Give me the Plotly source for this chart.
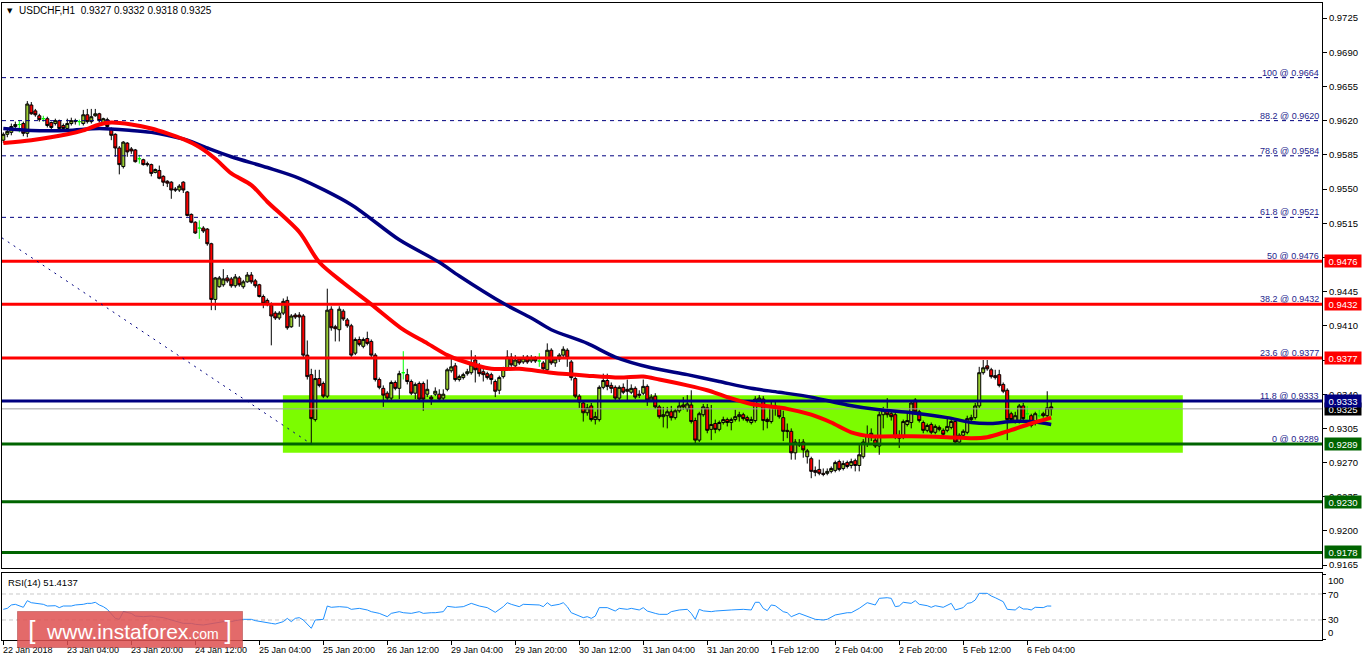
import plotly.graph_objects as go

# ---------------- data ----------------
opens = [
 0.9600,0.9606,0.9608,0.9614,0.9616,0.9617,0.9607,0.9636,0.9630,0.9625,
 0.9622,0.9622,0.9618,0.9617,0.9620,0.9615,0.9612,0.9617,0.9619,0.9619,
 0.9617,0.9626,0.9619,0.9625,0.9627,0.9618,0.9621,0.9611,0.9606,0.9592,
 0.9573,0.9597,0.9591,0.9590,0.9581,0.9580,0.9576,0.9575,0.9567,0.9569,
 0.9563,0.9558,0.9557,0.9550,0.9549,0.9557,0.9547,0.9524,0.9516,0.9510,
 0.9510,0.9509,0.9494,0.9437,0.9450,0.9452,0.9459,0.9458,0.9451,0.9459,
 0.9450,0.9455,0.9462,0.9456,0.9452,0.9440,0.9436,0.9431,0.9423,0.9418,
 0.9423,0.9436,0.9409,0.9421,0.9421,0.9420,0.9380,0.9360,0.9314,0.9356,
 0.9351,0.9338,0.9427,0.9409,0.9406,0.9425,0.9416,0.9410,0.9382,0.9396,
 0.9389,0.9397,0.9394,0.9380,0.9355,0.9346,0.9341,0.9336,0.9352,0.9346,
 0.9362,0.9360,0.9353,0.9341,0.9351,0.9351,0.9340,0.9337,0.9340,0.9340,
 0.9336,0.9345,0.9364,0.9369,0.9355,0.9357,0.9361,0.9362,0.9375,0.9368,
 0.9363,0.9361,0.9360,0.9353,0.9344,0.9358,0.9366,0.9378,0.9369,0.9376,
 0.9373,0.9378,0.9374,0.9377,0.9374,0.9372,0.9365,0.9385,0.9372,0.9376,
 0.9380,0.9385,0.9373,0.9356,0.9338,0.9331,0.9321,0.9328,0.9314,0.9314,
 0.9347,0.9354,0.9349,0.9347,0.9336,0.9347,0.9345,0.9342,0.9346,0.9340,
 0.9341,0.9348,0.9334,0.9338,0.9327,0.9317,0.9318,0.9322,0.9316,0.9323,
 0.9329,0.9325,0.9329,0.9313,0.9293,0.9319,0.9326,0.9304,0.9310,0.9304,
 0.9311,0.9314,0.9311,0.9314,0.9317,0.9319,0.9316,0.9311,0.9313,0.9334,
 0.9335,0.9314,0.9312,0.9328,0.9326,0.9316,0.9303,0.9302,0.9280,0.9290,
 0.9291,0.9276,0.9274,0.9262,0.9263,0.9259,0.9259,0.9261,0.9262,0.9271,
 0.9264,0.9270,0.9267,0.9272,0.9267,0.9276,0.9289,0.9296,0.9293,0.9287,
 0.9319,0.9323,0.9320,0.9319,0.9297,0.9296,0.9309,0.9311,0.9334,0.9322,
 0.9311,0.9303,0.9309,0.9301,0.9306,0.9303,0.9303,0.9306,0.9312,0.9291,
 0.9298,0.9301,0.9314,0.9316,0.9328,0.9362,0.9369,0.9365,0.9359,0.9360,
 0.9350,0.9344,0.9320,0.9313,0.9313,0.9328,0.9320,0.9318,0.9310,0.9318,
 0.9320,0.9318,0.9327]

highs = [
 0.9608,0.9611,0.9617,0.9619,0.9620,0.9619,0.9640,0.9639,0.9632,0.9627,
 0.9625,0.9624,0.9619,0.9622,0.9621,0.9617,0.9622,0.9623,0.9622,0.9621,
 0.9631,0.9632,0.9632,0.9632,0.9628,0.9623,0.9623,0.9613,0.9607,0.9594,
 0.9599,0.9598,0.9593,0.9591,0.9585,0.9581,0.9578,0.9576,0.9571,0.9574,
 0.9564,0.9559,0.9558,0.9552,0.9555,0.9558,0.9548,0.9525,0.9517,0.9518,
 0.9512,0.9510,0.9495,0.9460,0.9461,0.9468,0.9462,0.9460,0.9463,0.9461,
 0.9457,0.9465,0.9465,0.9458,0.9453,0.9442,0.9438,0.9434,0.9425,0.9425,
 0.9438,0.9440,0.9422,0.9423,0.9424,0.9422,0.9395,0.9366,0.9365,0.9365,
 0.9353,0.9448,0.9430,0.9411,0.9430,0.9427,0.9418,0.9412,0.9398,0.9399,
 0.9398,0.9404,0.9396,0.9382,0.9357,0.9349,0.9343,0.9354,0.9354,0.9364,
 0.9384,0.9366,0.9355,0.9352,0.9353,0.9353,0.9355,0.9339,0.9347,0.9345,
 0.9345,0.9367,0.9380,0.9372,0.9360,0.9362,0.9366,0.9385,0.9380,0.9372,
 0.9366,0.9363,0.9362,0.9355,0.9359,0.9368,0.9385,0.9382,0.9380,0.9378,
 0.9380,0.9380,0.9380,0.9379,0.9382,0.9374,0.9392,0.9387,0.9378,0.9382,
 0.9389,0.9387,0.9375,0.9358,0.9340,0.9334,0.9330,0.9331,0.9322,0.9349,
 0.9361,0.9361,0.9352,0.9349,0.9349,0.9351,0.9355,0.9350,0.9348,0.9344,
 0.9355,0.9350,0.9340,0.9341,0.9329,0.9327,0.9327,0.9328,0.9325,0.9333,
 0.9337,0.9339,0.9344,0.9316,0.9322,0.9330,0.9330,0.9329,0.9314,0.9313,
 0.9317,0.9316,0.9316,0.9324,0.9322,0.9321,0.9318,0.9317,0.9338,0.9339,
 0.9338,0.9316,0.9334,0.9334,0.9328,0.9323,0.9310,0.9305,0.9294,0.9294,
 0.9294,0.9284,0.9276,0.9266,0.9273,0.9264,0.9264,0.9266,0.9272,0.9273,
 0.9272,0.9272,0.9274,0.9274,0.9288,0.9294,0.9308,0.9305,0.9296,0.9322,
 0.9327,0.9336,0.9322,0.9321,0.9303,0.9314,0.9322,0.9333,0.9336,0.9324,
 0.9313,0.9310,0.9311,0.9309,0.9308,0.9305,0.9315,0.9315,0.9315,0.9300,
 0.9304,0.9318,0.9319,0.9331,0.9368,0.9375,0.9375,0.9367,0.9365,0.9365,
 0.9352,0.9346,0.9322,0.9322,0.9330,0.9331,0.9328,0.9320,0.9322,0.9324,
 0.9322,0.9343,0.9332]

lows = [
 0.9597,0.9603,0.9605,0.9610,0.9608,0.9604,0.9603,0.9626,0.9624,0.9619,
 0.9619,0.9613,0.9610,0.9615,0.9611,0.9610,0.9610,0.9615,0.9616,0.9615,
 0.9615,0.9617,0.9617,0.9624,0.9618,0.9616,0.9612,0.9600,0.9583,0.9565,
 0.9571,0.9583,0.9586,0.9577,0.9576,0.9574,0.9573,0.9563,0.9566,0.9560,
 0.9553,0.9552,0.9540,0.9547,0.9547,0.9546,0.9522,0.9515,0.9504,0.9499,
 0.9505,0.9492,0.9426,0.9426,0.9449,0.9450,0.9454,0.9449,0.9449,0.9450,
 0.9448,0.9454,0.9453,0.9449,0.9439,0.9428,0.9430,0.9390,0.9416,0.9416,
 0.9421,0.9406,0.9408,0.9417,0.9409,0.9378,0.9355,0.9289,0.9312,0.9347,
 0.9336,0.9336,0.9405,0.9394,0.9394,0.9415,0.9408,0.9378,0.9380,0.9389,
 0.9387,0.9390,0.9378,0.9353,0.9345,0.9327,0.9334,0.9334,0.9344,0.9335,
 0.9355,0.9350,0.9339,0.9335,0.9333,0.9323,0.9337,0.9329,0.9338,0.9333,
 0.9334,0.9343,0.9362,0.9353,0.9353,0.9355,0.9359,0.9360,0.9352,0.9358,
 0.9353,0.9355,0.9350,0.9337,0.9340,0.9356,0.9364,0.9368,0.9366,0.9370,
 0.9371,0.9371,0.9372,0.9372,0.9368,0.9364,0.9363,0.9370,0.9368,0.9373,
 0.9378,0.9368,0.9354,0.9336,0.9326,0.9312,0.9318,0.9312,0.9309,0.9312,
 0.9345,0.9344,0.9341,0.9334,0.9334,0.9340,0.9334,0.9340,0.9335,0.9336,
 0.9339,0.9328,0.9332,0.9325,0.9315,0.9306,0.9305,0.9313,0.9314,0.9321,
 0.9324,0.9322,0.9310,0.9290,0.9291,0.9317,0.9300,0.9293,0.9300,0.9302,
 0.9309,0.9307,0.9303,0.9312,0.9312,0.9313,0.9311,0.9309,0.9311,0.9332,
 0.9303,0.9305,0.9310,0.9318,0.9315,0.9292,0.9295,0.9273,0.9273,0.9286,
 0.9275,0.9269,0.9254,0.9256,0.9257,0.9256,0.9257,0.9259,0.9260,0.9261,
 0.9262,0.9264,0.9264,0.9261,0.9261,0.9274,0.9286,0.9292,0.9285,0.9278,
 0.9305,0.9316,0.9313,0.9294,0.9285,0.9294,0.9307,0.9305,0.9319,0.9311,
 0.9300,0.9301,0.9299,0.9299,0.9302,0.9296,0.9301,0.9304,0.9289,0.9289,
 0.9296,0.9299,0.9312,0.9314,0.9326,0.9360,0.9364,0.9356,0.9355,0.9347,
 0.9341,0.9293,0.9312,0.9310,0.9310,0.9313,0.9314,0.9306,0.9308,0.9316,
 0.9316,0.9314,0.9318]

closes = [
 0.9606,0.9609,0.9614,0.9616,0.9616,0.9607,0.9637,0.9627,0.9626,0.9621,
 0.9622,0.9615,0.9613,0.9620,0.9612,0.9612,0.9617,0.9620,0.9620,0.9619,
 0.9626,0.9619,0.9624,0.9627,0.9620,0.9622,0.9614,0.9605,0.9592,0.9575,
 0.9598,0.9588,0.9589,0.9578,0.9581,0.9575,0.9575,0.9566,0.9570,0.9561,
 0.9557,0.9556,0.9549,0.9549,0.9553,0.9549,0.9523,0.9516,0.9505,0.9510,
 0.9507,0.9494,0.9437,0.9459,0.9459,0.9458,0.9456,0.9451,0.9460,0.9452,
 0.9455,0.9462,0.9455,0.9451,0.9440,0.9433,0.9432,0.9420,0.9418,0.9423,
 0.9435,0.9408,0.9420,0.9419,0.9419,0.9380,0.9358,0.9315,0.9356,0.9349,
 0.9338,0.9426,0.9408,0.9407,0.9427,0.9417,0.9410,0.9380,0.9396,0.9391,
 0.9396,0.9392,0.9380,0.9355,0.9347,0.9339,0.9336,0.9352,0.9346,0.9361,
 0.9362,0.9353,0.9341,0.9350,0.9335,0.9335,0.9345,0.9335,0.9343,0.9335,
 0.9340,0.9365,0.9368,0.9355,0.9358,0.9360,0.9363,0.9370,0.9365,0.9361,
 0.9360,0.9357,0.9355,0.9343,0.9357,0.9366,0.9378,0.9370,0.9375,0.9372,
 0.9377,0.9373,0.9377,0.9374,0.9374,0.9366,0.9385,0.9372,0.9376,0.9380,
 0.9386,0.9377,0.9357,0.9338,0.9332,0.9321,0.9326,0.9314,0.9317,0.9347,
 0.9354,0.9348,0.9346,0.9336,0.9347,0.9342,0.9343,0.9346,0.9337,0.9339,
 0.9348,0.9334,0.9337,0.9327,0.9317,0.9319,0.9322,0.9316,0.9323,0.9328,
 0.9327,0.9330,0.9312,0.9293,0.9320,0.9327,0.9303,0.9309,0.9304,0.9311,
 0.9314,0.9311,0.9314,0.9317,0.9319,0.9315,0.9313,0.9314,0.9335,0.9336,
 0.9313,0.9312,0.9328,0.9326,0.9317,0.9302,0.9302,0.9280,0.9291,0.9288,
 0.9283,0.9282,0.9261,0.9260,0.9259,0.9258,0.9261,0.9264,0.9270,0.9263,
 0.9269,0.9266,0.9271,0.9267,0.9278,0.9291,0.9298,0.9300,0.9287,0.9319,
 0.9324,0.9319,0.9317,0.9296,0.9295,0.9312,0.9313,0.9331,0.9322,0.9313,
 0.9303,0.9308,0.9301,0.9307,0.9304,0.9299,0.9307,0.9312,0.9291,0.9298,
 0.9302,0.9315,0.9316,0.9328,0.9362,0.9367,0.9366,0.9358,0.9357,0.9349,
 0.9343,0.9314,0.9314,0.9318,0.9328,0.9315,0.9320,0.9308,0.9320,0.9318,
 0.9318,0.9326,0.9325]

# moving averages (bar index, value)
red_ma_x = [0, 7, 16, 20, 24, 27, 32, 37, 41, 45, 49, 53, 57, 62, 66, 74, 79, 85, 92, 100,
            106, 111, 114, 122, 129, 137, 146, 154, 160, 164, 171, 176, 181, 187, 196, 202,
            207, 212, 217, 227, 236, 242, 246, 251, 257, 262]
red_ma_y = [0.9597, 0.9600, 0.9606, 0.9610, 0.9616, 0.9618, 0.9616, 0.9612, 0.9607, 0.9601,
            0.9593, 0.9581, 0.9566, 0.9554, 0.9537, 0.9506, 0.9475, 0.9454, 0.9432, 0.9406,
            0.9392, 0.9380, 0.9375, 0.9366, 0.9366, 0.9362, 0.9359, 0.9357, 0.9358, 0.9355,
            0.9349, 0.9344, 0.9337, 0.9330, 0.9325, 0.9319, 0.9311, 0.9301, 0.9297, 0.9297,
            0.9296, 0.9295, 0.9296, 0.9302, 0.9310, 0.9316]
blue_ma_x = [0, 7, 16, 24, 32, 37, 41, 46, 51, 57, 66, 74, 87, 99, 109, 114, 125, 132, 137,
             146, 153, 162, 171, 179, 187, 194, 202, 211, 219, 227, 236, 242, 247, 252, 257, 262]
blue_ma_y = [0.9612, 0.9610, 0.9610, 0.9612, 0.9610, 0.9608, 0.9605, 0.9600, 0.9592, 0.9583,
             0.9572, 0.9561, 0.9534, 0.9498, 0.9475, 0.9461, 0.9433, 0.9418, 0.9406, 0.9392,
             0.9378, 0.9367, 0.9360, 0.9353, 0.9346, 0.9342, 0.9337, 0.9329, 0.9324, 0.9321,
             0.9316, 0.9311, 0.9310, 0.9312, 0.9312, 0.9309]

# RSI(14)
rsi_x = [0,1,2,3,5,6,7,8,10,11,
         13,14,15,17,18,20,21,22,23,24,
         25,26,28,29,30,32,33,35,37,38,
         40,42,43,45,47,48,50,52,53,55,
         57,58,60,62,63,65,67,68,70,71,
         72,73,74,75,77,78,80,81,82,84,
         86,87,89,91,92,94,96,97,99,100,
         102,104,105,107,108,110,111,113,115,117,
         119,121,123,125,126,127,129,130,132,134,
         135,136,137,139,140,141,142,144,145,146,
         147,148,149,151,153,154,156,157,159,160,
         161,163,164,166,167,169,171,172,173,174,
         175,177,178,182,185,187,188,189,190,191,
         192,193,195,196,197,199,200,202,203,205,
         206,208,209,211,212,214,216,218,219,221,
         222,223,224,225,227,228,229,231,232,233,
         235,237,238,240,241,242,243,244,246,247,
         248,250,251,252,253,254,255,256,257,258,
         259,260,261,262]
rsi_v = [46.4,47.9,53.1,54.1,49.5,59.7,56.6,55.6,54.1,51.5,
         52.0,49.0,51.5,51.5,53.1,54.1,55.6,55.6,57.2,53.1,
         50.5,46.4,32.5,31.0,42.8,40.2,36.1,35.1,36.1,35.1,
         33.6,30.0,28.4,24.8,24.8,23.3,22.3,24.8,25.9,27.4,
         27.4,29.0,31.0,31.0,29.0,27.4,24.8,23.8,27.4,32.5,
         27.4,32.5,33.6,30.0,17.2,30.0,31.0,51.5,49.5,50.5,
         49.5,46.4,47.9,45.4,42.8,40.2,35.1,40.2,42.8,41.2,
         40.2,42.8,40.2,41.2,41.2,42.8,51.0,49.5,50.5,55.6,
         51.5,49.0,41.8,50.5,56.6,54.1,50.5,54.1,54.1,53.1,
         50.5,56.6,52.0,54.1,56.6,50.5,41.2,36.1,33.6,35.1,
         32.5,36.0,49.0,49.0,43.8,47.9,46.4,47.9,45.4,49.0,
         43.8,40.2,38.7,38.7,42.8,45.4,46.4,40.2,31.0,46.4,
         44.0,42.8,43.8,45.4,46.4,45.4,57.2,57.2,47.9,44.3,
         53.1,52.0,42.8,41.2,35.1,40.2,37.7,32.5,31.0,30.0,
         31.0,37.7,39.2,41.2,41.2,47.9,56.6,53.1,63.3,64.3,
         63.3,50.5,51.5,57.2,55.6,59.7,54.1,52.0,49.5,52.0,
         49.5,55.6,45.4,49.0,55.6,56.6,60.7,71.0,71.0,66.9,
         64.3,58.2,46.4,45.4,45.4,50.5,46.9,46.9,45.4,49.5,
         49.0,49.0,51.5,51.4137]
rsi_levels = [70, 30]

# time axis labels (every 16 hourly bars)
tick_bars = [0, 16, 32, 48, 64, 80, 96, 112, 128, 144, 160, 176, 192, 208, 224, 240, 256]
tick_labels = ["22 Jan 2018", "23 Jan 04:00", "23 Jan 20:00", "24 Jan 12:00", "25 Jan 04:00",
               "25 Jan 20:00", "26 Jan 12:00", "29 Jan 04:00", "29 Jan 20:00", "30 Jan 12:00",
               "31 Jan 04:00", "31 Jan 20:00", "1 Feb 12:00", "2 Feb 04:00", "2 Feb 20:00",
               "5 Feb 12:00", "6 Feb 04:00"]
price_ticks = [0.9725, 0.9690, 0.9655, 0.9620, 0.9585, 0.9550, 0.9515, 0.9480, 0.9445,
               0.9410, 0.9375, 0.9340, 0.9305, 0.9270, 0.9235, 0.9200, 0.9165]

# Fibonacci retracement and levels
fib_levels = [100, 88.2, 78.6, 61.8, 50, 38.2, 23.6, 11.8, 0]
fib_prices = [0.9664, 0.9620, 0.9584, 0.9521, 0.9476, 0.9432, 0.9377, 0.9333, 0.9289]
red_levels = [0.9476, 0.9432, 0.9377]
blue_levels = [0.9333]
green_levels = [0.9289, 0.9230, 0.9178]
trend_x = [-0.33, 77]
trend_y = [0.9500, 0.9289]
zone_x = [69.9, 294.9]
zone_y = [0.9280, 0.9339]

symbol = "USDCHF,H1"

# ---------------- figure ----------------
FONT = "Liberation Sans, Arial, sans-serif"
x_range = [-0.33, 329.7]
price_range = [0.91621, 0.97404]
rsi_range = [-0.8, 102.3]
main_bottom = 72 / 637
rsi_top = 67 / 637
NAVY = "#000080"

fig = go.Figure()

n = len(closes)
assert len(opens) == n and len(highs) == n and len(lows) == n, (len(opens), len(highs), len(lows), n)
assert len(rsi_x) == len(rsi_v), (len(rsi_x), len(rsi_v))
bars = list(range(n))
normal = [k for k in bars if opens[k] != closes[k]]
doji = [k for k in bars if opens[k] == closes[k]]

fig.add_trace(go.Candlestick(
    x=normal, open=[opens[k] for k in normal], high=[highs[k] for k in normal],
    low=[lows[k] for k in normal], close=[closes[k] for k in normal],
    increasing=dict(line=dict(color="black", width=1), fillcolor="#9ACD32"),
    decreasing=dict(line=dict(color="black", width=1), fillcolor="#FF0000"),
    whiskerwidth=0, hoverinfo="skip", xaxis="x", yaxis="y"))
fig.add_trace(go.Candlestick(
    x=doji, open=[opens[k] for k in doji], high=[highs[k] for k in doji],
    low=[lows[k] for k in doji], close=[closes[k] for k in doji],
    increasing=dict(line=dict(color="#00FF00", width=1), fillcolor="#00FF00"),
    decreasing=dict(line=dict(color="#00FF00", width=1), fillcolor="#00FF00"),
    whiskerwidth=0, hoverinfo="skip", xaxis="x", yaxis="y"))

def hline(price, color, width, dash="solid"):
    fig.add_trace(go.Scatter(x=x_range, y=[price, price], mode="lines",
                             line=dict(color=color, width=width, dash=dash),
                             hoverinfo="skip", xaxis="x", yaxis="y"))

solid = set(red_levels + blue_levels + green_levels)
for p in fib_prices:
    if p not in solid:
        hline(p, NAVY, 1, "4px,4px")
hline(closes[-1], "#A0A0A0", 1)
for p in red_levels:
    hline(p, "#FF0000", 3)
for p in blue_levels:
    hline(p, NAVY, 3)
for p in green_levels:
    hline(p, "#006400", 3)

fig.add_trace(go.Scatter(x=trend_x, y=trend_y, mode="lines",
                         line=dict(color=NAVY, width=1, dash="2px,5px"),
                         hoverinfo="skip", xaxis="x", yaxis="y"))

fig.add_trace(go.Scatter(x=blue_ma_x, y=blue_ma_y, mode="lines",
                         line=dict(color=NAVY, width=3.5, shape="spline", smoothing=0.8),
                         hoverinfo="skip", xaxis="x", yaxis="y"))
fig.add_trace(go.Scatter(x=red_ma_x, y=red_ma_y, mode="lines",
                         line=dict(color="#FF0000", width=4, shape="spline", smoothing=0.8),
                         hoverinfo="skip", xaxis="x", yaxis="y"))

# RSI panel
for lv in rsi_levels:
    fig.add_trace(go.Scatter(x=x_range, y=[lv, lv], mode="lines",
                             line=dict(color="#C8C8C8", width=1, dash="4px,3px"),
                             hoverinfo="skip", xaxis="x2", yaxis="y2"))
fig.add_trace(go.Scatter(x=rsi_x, y=rsi_v, mode="lines",
                         line=dict(color="#1E90FF", width=1),
                         hoverinfo="skip", xaxis="x2", yaxis="y2"))

shapes = [dict(type="rect", xref="x", yref="y", x0=zone_x[0], x1=zone_x[1],
               y0=zone_y[0], y1=zone_y[1], fillcolor="#7CFC00",
               line=dict(width=0), layer="below")]

ann = []
# header
ann.append(dict(x=(10 - 2) / 1320, y=(640 - 11) / 637, xref="paper", yref="paper",
                text="▼", showarrow=False, xanchor="center", yanchor="middle",
                font=dict(family="DejaVu Sans", size=7, color="black")))
hdr = f"{symbol}\u00a0\u00a0{opens[-1]:.4f} {highs[-1]:.4f} {lows[-1]:.4f} {closes[-1]:.4f}"
ann.append(dict(x=(17 - 2) / 1320, y=(640 - 11) / 637, xref="paper", yref="paper",
                text=hdr, showarrow=False, xanchor="left", yanchor="middle",
                font=dict(family=FONT, size=10, color="black")))
ann.append(dict(x=(6 - 2) / 1320, y=(640 - 582) / 637, xref="paper", yref="paper",
                text=f"RSI(14) {rsi_v[-1]:.4f}", showarrow=False, xanchor="left",
                yanchor="middle", font=dict(family=FONT, size=9.5, color="black")))
# fib labels
for lv, p in zip(fib_levels, fib_prices):
    ann.append(dict(x=1, y=p, xref="paper", yref="y", text=f"{lv:g} @ {p:.4f}",
                    showarrow=False, xanchor="right", yanchor="bottom", xshift=-1, yshift=-2,
                    font=dict(family=FONT, size=9, color="#1E1E8C")))
# price boxes
boxes = [(p, "#FF0000") for p in red_levels] + [(closes[-1], "#000000")] + \
        [(p, NAVY) for p in blue_levels] + [(p, "#006400") for p in green_levels]
for p, c in boxes:
    ann.append(dict(x=1, y=p, xref="paper", yref="y", text=f"{p:.4f}", showarrow=False,
                    xanchor="left", yanchor="middle", xshift=2, bgcolor=c, borderpad=0,
                    width=36, height=12, align="center",
                    font=dict(family=FONT, size=9.5, color="white")))
# RSI axis labels
for txt, yv in [("100", 91.5), ("70", 68.5), ("30", 30), ("0", 10)]:
    ann.append(dict(x=1, y=yv, xref="paper", yref="y2", text=txt, showarrow=False,
                    xanchor="left", yanchor="middle", xshift=4,
                    font=dict(family=FONT, size=9.5, color="black")))
# time labels
for b, lab in zip(tick_bars, tick_labels):
    ann.append(dict(x=b, y=-10 / 637, xref="x2", yref="paper", text=lab, showarrow=False,
                    xanchor="left", yanchor="middle", xshift=-2,
                    font=dict(family=FONT, size=9, color="black")))
# watermark
logo = ("<span style='font-size:26px'>[</span>\u00a0\u00a0www.instaforex"
        "<span style='font-size:14px'>.com</span>\u00a0<span style='font-size:26px'>]</span>")
ann.append(dict(x=(17 - 2) / 1320, y=(640 - 629.5) / 637, xref="paper", yref="paper",
                text=logo, showarrow=False, xanchor="left", yanchor="middle",
                bgcolor="rgba(222,82,82,0.86)", bordercolor="rgba(170,60,60,0.5)",
                borderwidth=1, borderpad=0, width=224, height=35, align="center",
                font=dict(family=FONT, size=21, color="white")))

axis_common = dict(showgrid=False, zeroline=False, showline=True, linecolor="black",
                   linewidth=1, mirror=True, automargin=False, fixedrange=True)

fig.update_layout(
    width=1362, height=661, template="none",
    margin=dict(l=2, r=40, t=3, b=21, pad=0),
    paper_bgcolor="white", plot_bgcolor="white",
    showlegend=False, boxgap=0.25, boxgroupgap=0, boxmode="overlay",
    font=dict(family=FONT, size=9.5, color="black"),
    xaxis=dict(domain=[0, 1], anchor="y", range=x_range, showticklabels=False, ticks="",
               rangeslider=dict(visible=False), **axis_common),
    yaxis=dict(domain=[main_bottom, 1], anchor="x", side="right", range=price_range,
               tickvals=price_ticks, tickformat=".4f", ticks="outside", ticklen=4,
               tickcolor="black", tickfont=dict(family=FONT, size=9.5, color="black"),
               **axis_common),
    xaxis2=dict(domain=[0, 1], anchor="y2", range=x_range, tickvals=tick_bars,
                showticklabels=False, ticks="outside", ticklen=4, tickcolor="black",
                **axis_common),
    yaxis2=dict(domain=[0, rsi_top], anchor="x2", side="right", range=rsi_range,
                tickvals=[0, 30, 70, 100], showticklabels=False, ticks="outside", ticklen=3,
                tickcolor="black", **axis_common),
    shapes=shapes, annotations=ann,
)

fig.write_html("out.html", config={"displayModeBar": False},
               post_script="document.body.style.margin='0';document.body.style.overflow='hidden';")
